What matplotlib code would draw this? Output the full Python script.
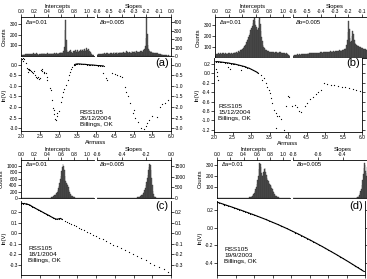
import numpy as np
import matplotlib.pyplot as plt

plt.rcParams['font.family'] = ['Liberation Sans', 'DejaVu Sans']

W, H = 367, 279

# ---------------- histogram counts (bin width 0.01 for intercepts, 0.005 for slopes)
int_a = [5, 8, 10, 12, 15, 14, 18, 12, 16, 20,
         15, 18, 22, 14, 20, 17, 12, 19, 24, 16,
         20, 15, 18, 25, 22, 17, 14, 21, 19, 23,
         18, 24, 16, 20, 26, 15, 22, 19, 17, 25,
         20, 18, 23, 27, 16, 21, 25, 19, 22, 28,
         24, 18, 26, 30, 22, 27, 20, 25, 32, 28,
         35, 30, 28, 40, 45, 90, 250, 340, 150, 60,
         40, 35, 30, 45, 55, 38, 42, 30, 28, 50,
         45, 35, 55, 40, 48, 60, 38, 52, 45, 58,
         62, 48, 55, 70, 50, 65, 58, 45, 72, 60,
         55, 68, 40, 50, 35, 25, 18, 12, 8, 5]
slp_a = [10, 18, 22, 15, 25, 20, 28, 18, 24, 30,
         22, 26, 35, 20, 28, 32, 25, 38, 22, 30,
         28, 35, 25, 40, 30, 22, 36, 42, 28, 33,
         38, 30, 45, 28, 35, 40, 32, 48, 36, 30,
         42, 35, 50, 38, 30, 45, 40, 55, 35, 42,
         48, 38, 44, 52, 36, 40, 58, 45, 38, 50,
         42, 55, 40, 48, 60, 45, 38, 52, 46, 40,
         55, 48, 62, 45, 58, 70, 60, 85, 120, 210,
         450, 260, 130, 80, 65, 55, 48, 60, 42, 38,
         45, 35, 40, 30, 38, 28, 32, 25, 30, 22,
         25, 20, 18, 22, 15, 18, 12, 15, 10, 12,
         8, 10, 6, 8, 5, 6, 4, 5, 3, 2]

int_b = [20, 30, 35, 40, 38, 42, 36, 40, 45, 38,
         42, 38, 45, 40, 36, 44, 40, 46, 38, 42,
         40, 44, 38, 46, 42, 40, 48, 44, 42, 50,
         46, 52, 48, 55, 60, 58, 65, 70, 75, 80,
         85, 90, 100, 110, 120, 130, 145, 160, 175, 190,
         210, 230, 250, 270, 290, 320, 340, 360, 330, 300,
         280, 260, 250, 270, 340, 360, 310, 240, 190, 150,
         120, 100, 90, 80, 75, 70, 65, 60, 62, 58,
         55, 58, 52, 56, 50, 54, 52, 48, 55, 50,
         52, 48, 50, 46, 52, 48, 50, 45, 48, 44,
         46, 42, 44, 40, 42, 38, 35, 30, 25, 20]
slp_b = [20, 25, 30, 28, 32, 30, 35, 32, 34, 36,
         33, 38, 35, 40, 37, 36, 42, 38, 40, 43,
         40, 44, 41, 45, 42, 46, 44, 48, 45, 47,
         46, 50, 47, 52, 48, 50, 53, 49, 52, 55,
         52, 56, 53, 58, 55, 57, 60, 56, 58, 62,
         58, 60, 62, 58, 64, 60, 65, 62, 66, 63,
         65, 68, 64, 70, 66, 72, 68, 74, 70, 76,
         72, 78, 75, 80, 85, 90, 100, 130, 180, 250,
         360, 280, 200, 160, 170, 210, 260, 230, 180, 150,
         140, 130, 125, 120, 115, 110, 108, 105, 100, 98,
         95, 92, 90, 88, 85, 80, 78, 75, 70, 65,
         60, 55, 50, 45, 40, 35, 30, 25, 20, 15]

int_c = [0] * 40 + [
         2, 3, 5, 8, 12, 18, 25, 35, 48, 62,
         80, 100, 125, 155, 190, 240, 300, 380, 470, 580,
         700, 830, 960, 1050, 1000, 880, 700, 520, 460, 440,
         400, 330, 250, 180, 130, 95, 70, 50, 38, 28,
         20, 15, 11, 8, 6, 4, 3, 2, 1, 1] + [0] * 20
slp_c = [0] * 50 + [
         1, 1, 2, 2, 3, 3, 4, 5, 6, 8,
         10, 12, 15, 18, 22, 27, 33, 40, 50, 62,
         78, 95, 120, 150, 190, 240, 300, 380, 480, 600,
         750, 920, 1100, 1300, 1480, 1600, 1550, 1300, 950, 600,
         350, 200, 110, 60, 32, 18, 10, 6, 3, 2,
         1, 1] + [0] * 18

int_d = [0] * 45 + [1, 2, 3, 5, 7,
         10, 13, 17, 22, 28, 36, 46, 60, 78, 100,
         125, 160, 200, 260, 320, 310, 280, 230, 200, 210,
         240, 265, 270, 240, 205, 180, 165, 150, 140, 130,
         120, 110, 95, 80, 65, 50, 38, 28, 20, 14,
         10, 7, 5, 3, 2, 1, 1, 0, 0, 0] + [0] * 10
slp_d = [0] * 100 + [
         1, 2, 3, 5, 8, 12, 18, 28, 42, 60,
         85, 120, 165, 220, 280, 320, 300, 250, 200, 230,
         290, 310, 260, 190, 130, 85, 50, 28, 15, 8,
         4, 2, 1] + [0] * 27

# ---------------- ln(V) against airmass: scattered points + densely sampled runs
air_a = [2.03, 2.05, 2.07, 2.04, 2.13, 2.16, 2.18, 2.20, 2.19, 2.22, 2.24, 2.27, 2.29,
         2.32, 2.35, 2.37, 2.40, 2.43, 2.45, 2.48, 2.50, 2.52, 2.55, 2.57, 2.60, 2.62,
         2.67, 2.69, 2.70, 2.77, 2.80, 2.82, 2.85, 2.87, 2.88, 2.90, 2.92, 2.95, 2.97,
         3.00, 3.06, 3.09, 3.12, 3.15, 3.20, 3.24, 3.28, 3.30, 3.33, 3.36, 3.40,
         4.19, 4.27, 4.29, 4.43, 4.51, 4.57, 4.64, 4.69, 4.77,
         4.80, 4.86, 4.90, 4.99, 5.02, 5.04, 5.13, 5.20, 5.27, 5.32, 5.36, 5.40, 5.50,
         5.63, 5.71, 5.75, 5.84, 5.92]
lnv_a = [0.30, 0.32, 0.28, 0.20, 0.10, -0.14, -0.18, -0.25, -0.33, -0.20, -0.24, -0.30, -0.33,
         -0.38, -0.30, -0.48, -0.55, -0.62, -0.58, -0.66, -0.60, -0.24, -0.30, -0.20, -0.35, -0.40,
         -0.38, -0.57, -0.71, -1.10, -1.20, -1.67, -2.05, -2.14, -2.35, -2.55, -2.62, -2.45, -2.30,
         -2.20, -1.76, -1.52, -1.29, -1.14, -0.95, -0.71, -0.48, -0.33, -0.19, -0.11, 0.00,
         -0.38, -0.62, -0.71, -0.38, -0.43, -0.48, -0.52, -0.57, -1.05,
         -1.30, -1.50, -1.80, -2.30, -2.15, -2.50, -2.70, -3.00, -3.05, -2.90, -2.75, -2.60, -2.45,
         -2.48, -2.00, -1.86, -1.81, -1.67]
run_air_a = [3.43, 3.47, 3.50, 3.55, 3.60, 3.65, 3.70, 3.75, 3.80, 3.85, 3.90, 3.95, 4.00,
             4.05, 4.10, 4.15, 4.20]
run_lnv_a = [0.02, 0.04, 0.05, 0.05, 0.04, 0.03, 0.03, 0.02, 0.01, 0.00, 0.00, -0.01, -0.02,
             -0.03, -0.03, -0.04, -0.05]

air_b = [2.06, 2.09, 2.07, 2.10, 2.37, 2.42, 2.74,
         3.27, 3.30, 3.35, 3.40, 3.43, 3.48, 3.51, 3.54, 3.57, 3.62, 3.67, 3.70, 3.75, 3.80,
         3.67, 3.88, 3.95, 3.99, 4.02, 4.12, 4.18, 4.25, 4.30, 4.35, 4.45, 4.52, 4.60,
         4.68, 4.75, 4.82, 4.90,
         4.96, 5.05, 5.15, 5.25, 5.35, 5.45, 5.55, 5.65, 5.75, 5.85, 5.95]
lnv_b = [0.10, 0.03, -0.05, -0.14, 0.14, 0.10, 0.07,
         -0.03, -0.14, -0.10, -0.20, -0.28, -0.35, -0.42, -0.52, -0.63, -0.78, -0.85, -0.90, -0.90, -0.97,
         -1.17, -1.20, -0.70, -0.48, -0.50, -0.70, -0.68, -0.72, -0.80, -0.82, -0.70, -0.63, -0.55,
         -0.50, -0.44, -0.40, -0.36,
         -0.20, -0.22, -0.24, -0.25, -0.27, -0.29, -0.30, -0.32, -0.34, -0.35, -0.37]
run_air_b = [2.05, 2.10, 2.15, 2.20, 2.25, 2.30, 2.35, 2.40, 2.45, 2.50, 2.55, 2.60, 2.65, 2.70,
             2.75, 2.80, 2.85, 2.90, 2.95, 3.00, 3.05, 3.10, 3.15, 3.20]
run_lnv_b = [0.25, 0.25, 0.245, 0.24, 0.235, 0.23, 0.225, 0.22, 0.21, 0.205, 0.20, 0.19, 0.18,
             0.17, 0.16, 0.15, 0.14, 0.12, 0.11, 0.09, 0.07, 0.05, 0.03, 0.00]

air_c = [3.16, 3.22, 3.28, 3.34, 3.40, 3.47, 3.54, 3.61, 3.68, 3.76, 3.84, 3.92,
         4.00, 4.09, 4.18, 4.27, 4.36, 4.46, 4.56, 4.66, 4.76, 4.87, 4.98, 5.09, 5.20, 5.32,
         5.44, 5.56, 5.68, 5.80, 5.92]
lnv_c = [0.119, 0.109, 0.098, 0.088, 0.077, 0.065, 0.053, 0.041, 0.028, 0.014, 0.000, -0.014,
         -0.028, -0.043, -0.059, -0.075, -0.090, -0.108, -0.125, -0.142, -0.160, -0.179,
         -0.198, -0.217, -0.236, -0.257, -0.278, -0.299, -0.320, -0.341, -0.362]
run_air_c = [2.00, 2.03, 2.06, 2.09, 2.12, 2.15, 2.18, 2.21, 2.24, 2.27, 2.30, 2.34, 2.38, 2.42,
             2.46, 2.50, 2.54, 2.58, 2.62, 2.66, 2.70, 2.74, 2.78, 2.82, 2.86, 2.90, 2.95, 3.00,
             3.05, 3.10]
run_lnv_c = [0.280, 0.282, 0.279, 0.281, 0.276, 0.278, 0.272, 0.270, 0.265, 0.258, 0.252, 0.243,
             0.236, 0.228, 0.221, 0.214, 0.206, 0.198, 0.190, 0.183, 0.176, 0.168, 0.160, 0.152,
             0.145, 0.138, 0.132, 0.135, 0.140, 0.130]

air_d = [2.20, 2.45, 2.70, 2.95, 3.32, 3.72, 4.12, 4.52, 4.92, 5.32, 5.72]
lnv_d = [0.262, 0.227, 0.190, 0.152, 0.093, 0.022, -0.056, -0.140, -0.231, -0.327, -0.429]
run_air_d = [2.00, 2.05, 2.10, 2.15, 2.20, 2.25, 2.30, 2.35, 2.40, 2.45, 2.50, 2.55, 2.60, 2.65,
             2.70, 2.75, 2.80, 2.85, 2.90, 2.95, 3.00, 3.08, 3.16, 3.24, 3.32, 3.40, 3.48, 3.56,
             3.64, 3.72, 3.80, 3.88, 3.96, 4.04, 4.12, 4.20, 4.28, 4.36, 4.44, 4.52, 4.60, 4.68,
             4.76, 4.84, 4.92, 5.00, 5.08, 5.16, 5.24, 5.32, 5.40, 5.48, 5.56, 5.64, 5.72, 5.80,
             5.88, 5.96]
run_lnv_d = [0.290, 0.283, 0.276, 0.269, 0.262, 0.255, 0.248, 0.241, 0.234, 0.227, 0.219, 0.212,
             0.205, 0.198, 0.190, 0.183, 0.175, 0.168, 0.160, 0.152, 0.145, 0.132, 0.119, 0.106,
             0.093, 0.079, 0.065, 0.051, 0.037, 0.022, 0.007, -0.008, -0.024, -0.040, -0.056,
             -0.072, -0.089, -0.106, -0.123, -0.140, -0.158, -0.176, -0.194, -0.212, -0.231,
             -0.250, -0.269, -0.288, -0.307, -0.327, -0.347, -0.367, -0.387, -0.408, -0.429,
             -0.450, -0.471, -0.492]

labels = ['(a)', '(b)', '(c)', '(d)']
notes = ['RSS105\n26/12/2004\nBillings, OK',
         'RSS105\n15/12/2004\nBillings, OK',
         'RSS105\n18/1/2004\nBillings, OK',
         'RSS105\n19/9/2003\nBillings, OK']


def box(l, t, r, b):
    return [l / W, 1 - b / H, (r - l) / W, (b - t) / H]


def style(ax):
    ax.tick_params(direction='out', length=2, width=0.5, labelsize=3.5, pad=0.4)
    for s in ax.spines.values():
        s.set_linewidth(0.6)


def hists(fig, bi, bs, ci, cs, slo, ylim_i, ylim_s, yt_i, yt_s, st, st_lab, right_labels):
    ax = fig.add_axes(box(*bi))
    edges = np.arange(len(ci)) * 0.01
    ax.bar(edges, ci, width=0.01, align='edge', color='#606060', edgecolor='#2a2a2a', linewidth=0.25)
    ax.set_xlim(0, 1.1)
    ax.set_ylim(*ylim_i)
    ax.xaxis.tick_top()
    ax.xaxis.set_label_position('top')
    ax.set_xticks([0, 0.2, 0.4, 0.6, 0.8, 1.0])
    ax.set_xticklabels(['0.0', '0.2', '0.4', '0.6', '0.8', '1.0'])
    ax.set_yticks(yt_i)
    ax.set_xlabel('Intercepts', fontsize=4.2, labelpad=0.6)
    ax.set_ylabel('Counts', fontsize=4.2, labelpad=2)
    ax.spines['right'].set_visible(False)
    style(ax)
    ax.text(0.06, 0.83, 'Δa=0.01', transform=ax.transAxes, fontsize=4.2)

    ax2 = fig.add_axes(box(*bs))
    edges = slo + np.arange(len(cs)) * 0.005
    ax2.bar(edges, cs, width=0.005, align='edge', color='#606060', edgecolor='#2a2a2a', linewidth=0.25)
    ax2.set_xlim(slo, 0)
    ax2.set_ylim(*ylim_s)
    ax2.xaxis.tick_top()
    ax2.xaxis.set_label_position('top')
    ax2.set_xticks(st)
    ax2.set_xticklabels(st_lab)
    ax2.yaxis.tick_right()
    ax2.set_yticks(yt_s)
    if not right_labels:
        ax2.set_yticklabels([])
    ax2.set_xlabel('Slopes', fontsize=4.2, labelpad=0.6)
    ax2.spines['left'].set_visible(False)
    style(ax2)
    ax2.text(0.04, 0.83, 'Δb=0.005', transform=ax2.transAxes, fontsize=4.2)


def lines(fig, bl, x, y, rx, ry, ylim, yt, lab, note, note_xy, xlabels, right_labels):
    ax = fig.add_axes(box(*bl))
    ax.plot(rx, ry, '-', color='k', lw=0.8)
    ax.plot(rx, ry, '.', color='k', ms=1.6, mew=0)
    ax.plot(x, y, '.', color='k', ms=1.8, mew=0)
    ax.set_xlim(2.0, 6.0)
    ax.set_ylim(*ylim)
    ax.set_xticks([2.0, 2.5, 3.0, 3.5, 4.0, 4.5, 5.0, 5.5, 6.0])
    if xlabels:
        ax.set_xticklabels(['2.0', '2.5', '3.0', '3.5', '4.0', '4.5', '5.0', '5.5', '6.0'])
        ax.set_xlabel('Airmass', fontsize=4.2, labelpad=0.5)
    else:
        ax.set_xticklabels([])
    ax.set_yticks(yt)
    ax.set_yticklabels(['%.1f' % v for v in yt])
    ax.tick_params(right=True, labelright=right_labels)
    ax.set_ylabel('ln(V)', fontsize=4.2, labelpad=2)
    ax.spines['top'].set_visible(False)
    style(ax)
    ax.text(0.94, 0.93, lab, transform=ax.transAxes, fontsize=8, ha='center', va='center')
    ax.text(note_xy[0], note_xy[1], note, transform=ax.transAxes, fontsize=4.6,
            va='top', linespacing=1.25)


fig = plt.figure(figsize=(W / 100, H / 100), dpi=100)

hists(fig, (21, 17, 94, 56), (97, 17, 171, 56), int_a, slp_a, -0.6, (0, 370), (0, 460),
      [100, 200, 300], [0, 100, 200, 300, 400],
      [-0.6, -0.5, -0.4, -0.3, -0.2, -0.1, 0.0],
      ['-0.6', '-0.5', '-0.4', '-0.3', '-0.2', '-0.1', '0.0'], True)
lines(fig, (21, 58, 171, 131), air_a, lnv_a, run_air_a, run_lnv_a, (-3.14, 0.33),
      [0.0, -0.5, -1.0, -1.5, -2.0, -2.5, -3.0], labels[0], notes[0], (0.39, 0.29), True, True)

hists(fig, (215, 17, 290, 58), (293, 17, 376, 58), int_b, slp_b, -0.6, (0, 370), (0, 400),
      [100, 200, 300], [0, 100, 200, 300],
      [-0.6, -0.5, -0.4, -0.3, -0.2, -0.1, 0.0],
      ['-0.6', '-0.5', '-0.4', '-0.3', '-0.2', '-0.1', ''], False)
lines(fig, (214, 58, 362, 132), air_b, lnv_b, run_air_b, run_lnv_b, (-1.246, 0.327),
      [0.2, 0.0, -0.2, -0.4, -0.6, -0.8, -1.0, -1.2], labels[1], notes[1], (0.03, 0.38), True, False)

hists(fig, (21, 160, 94, 198), (97, 160, 171, 198), int_c, slp_c, -0.6, (0, 1190), (0, 1790),
      [0, 200, 400, 600, 800, 1000], [0, 500, 1000, 1500],
      [-0.6, -0.4, -0.2, 0.0], ['-0.6', '-0.4', '-0.2', '0.0'], True)
lines(fig, (21, 201, 171, 275), air_c, lnv_c, run_air_c, run_lnv_c, (-0.394, 0.304),
      [0.2, 0.1, 0.0, -0.1, -0.2, -0.3], labels[2], notes[2], (0.05, 0.39), False, True)

hists(fig, (217, 160, 290, 198), (293, 160, 392, 198), int_d, slp_d, -0.8, (0, 345), (0, 350),
      [100, 200, 300], [0, 100, 200, 300],
      [-0.8, -0.6, -0.4, -0.2, 0.0], ['-0.8', '-0.6', '-0.4', '', ''], False)
lines(fig, (217, 201, 365, 275), air_d, lnv_d, run_air_d, run_lnv_d, (-0.535, 0.302),
      [0.2, 0.0, -0.2, -0.4], labels[3], notes[3], (0.05, 0.38), False, False)

fig.savefig('out.png', dpi=100)
